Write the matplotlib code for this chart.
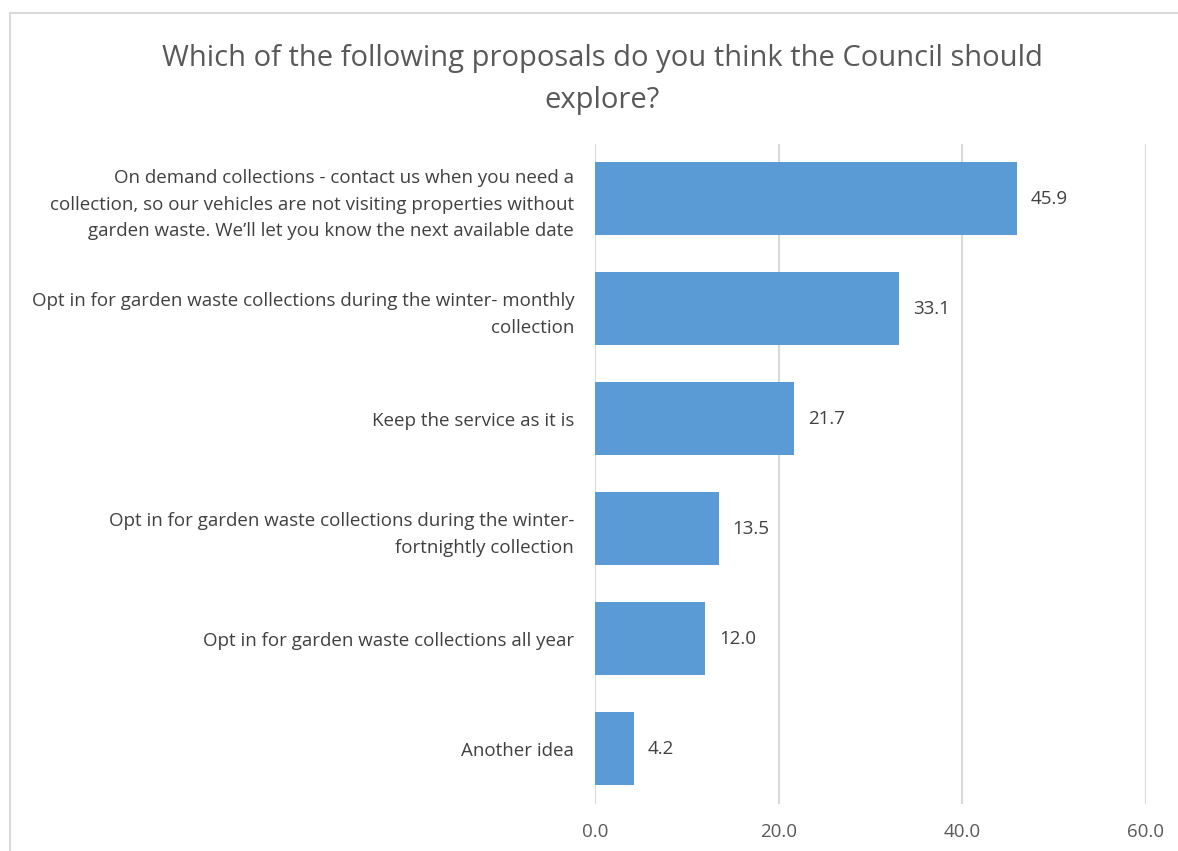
import matplotlib.pyplot as plt
from matplotlib.patches import Rectangle

plt.rcParams['font.family'] = ['Open Sans', 'DejaVu Sans']

categories = [
    "On demand collections - contact us when you need a\ncollection, so our vehicles are not visiting properties without\ngarden waste. We\u2019ll let you know the next available date",
    "Opt in for garden waste collections during the winter- monthly\ncollection",
    "Keep the service as it is",
    "Opt in for garden waste collections during the winter-\nfortnightly collection",
    "Opt in for garden waste collections all year",
    "Another idea",
]
values = [45.9, 33.1, 21.7, 13.5, 12.0, 4.2]
xticks = [0, 20, 40, 60]
title = "Which of the following proposals do you think the Council should\nexplore?"

bar_color = '#5B9BD5'
text_color = '#595959'

fig = plt.figure(figsize=(11.78, 8.51), dpi=100)
# outer chart frame
fig.patches.append(Rectangle((10 / 1178, -0.05), 1.2, (851 - 13) / 851 + 0.05,
                             transform=fig.transFigure, fill=False,
                             edgecolor='#D9D9D9', linewidth=1.5))

ax = fig.add_axes([595 / 1178, 47.5 / 851, 551 / 1178, 660 / 851])
ypos = list(range(len(categories)))
ax.barh(ypos, values, height=0.66, color=bar_color, zorder=3)
ax.set_ylim(len(categories) - 0.5, -0.5)
ax.set_xlim(0, 60)

for y, v in zip(ypos, values):
    ax.text(v + 1.5, y, f"{v:.1f}", va='center', ha='left',
            fontsize=13.5, color='#404040')

ax.set_yticks(ypos)
ax.set_yticklabels(categories, fontsize=13.5, color='#404040',
                   linespacing=1.6, multialignment='right')
ax.tick_params(axis='y', length=0, pad=15)
ax.set_xticks(xticks)
ax.set_xticklabels([f"{t:.1f}" for t in xticks], fontsize=13.5, color=text_color)
ax.tick_params(axis='x', length=0, pad=14)
ax.grid(axis='x', color='#D9D9D9', linewidth=1.5, zorder=0)
for s in ax.spines.values():
    s.set_visible(False)

fig.text(0.511, 1 - 79.5 / 851, title, ha='center', va='center',
         fontsize=21, color=text_color, linespacing=1.6)

fig.savefig('out.png', dpi=100)
